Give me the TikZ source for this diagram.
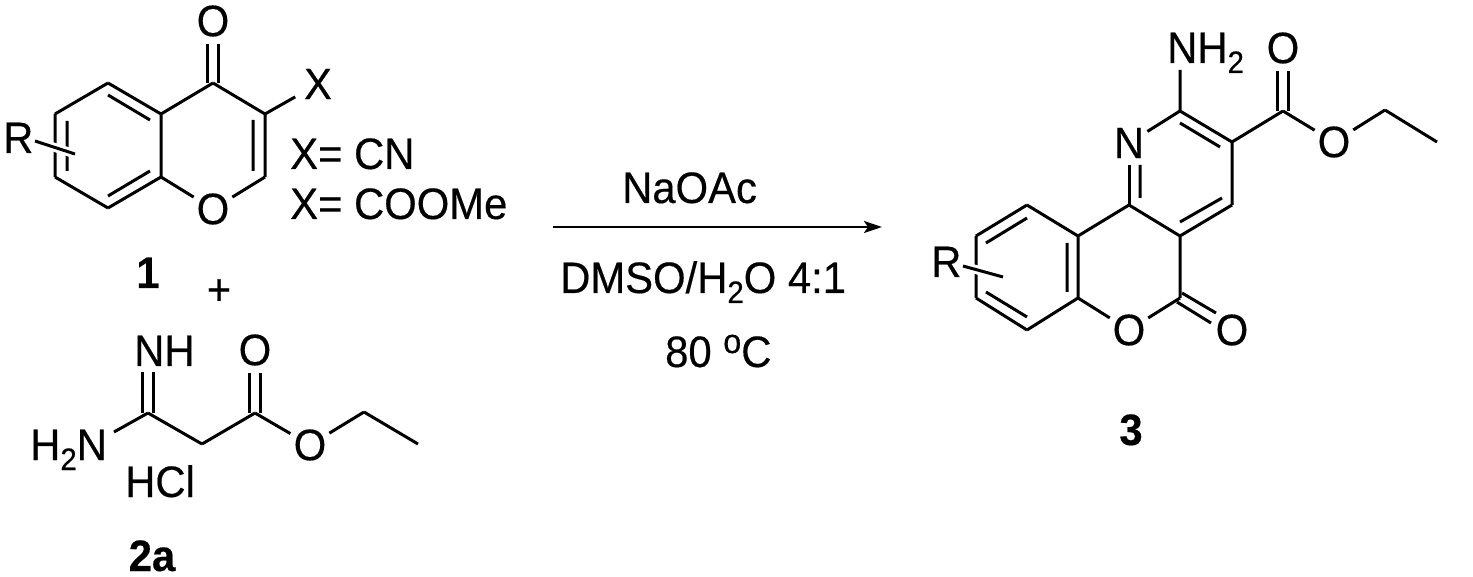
\documentclass[tikz,border=0pt]{standalone}
\usepackage{fontspec}
\setmainfont[FakeStretch=0.95,FakeBold=0.4]{Liberation Sans}
\usetikzlibrary{arrows.meta}
\newcommand{\subtwo}{\raisebox{-10pt}{\fontsize{31}{31}\selectfont 2}}
\tikzset{
  bond/.style={line width=3pt,line cap=butt,line join=round,black},
  halo/.style={line width=9pt,white},
  atomlab/.style={circle,inner sep=0pt,minimum size=43pt,font=\fontsize{44}{44}\selectfont},
  txt/.style={inner sep=0pt,anchor=base west,font=\fontsize{44}{44}\selectfont},
  cmpd/.style={inner sep=0pt,anchor=base,font=\fontsize{44}{44}\selectfont\bfseries},
  rxarrow/.style={line width=2.4pt,-{Stealth[length=18pt,width=12pt,inset=4pt]}}
}
\begin{document}
\begin{tikzpicture}[x=1pt,y=-1pt]
\useasboundingbox[fill=white] (0,0) rectangle (1473,577);
% ---- compound 1 ----
\coordinate (a4) at (213,83);
\coordinate (a3) at (265,114);
\coordinate (a2) at (265,177);
\coordinate (a8a) at (161,177);
\coordinate (a4a) at (161,114);
\coordinate (a5) at (108,83);
\coordinate (a6) at (55,114);
\coordinate (a7) at (55,177);
\coordinate (a8) at (108,208);
\coordinate (a5i) at (108,95);
\coordinate (a4ai) at (150,120);
\coordinate (a8i) at (108,196);
\coordinate (a8ai) at (150,171);
\coordinate (a6i) at (67,121);
\coordinate (a7i) at (67,171);
\coordinate (a3i) at (253,120);
\coordinate (a2i) at (253,171);
\coordinate (aRs) at (35,141);
\coordinate (aRe) at (75,154);
\node[atomlab] (aO1) at (213,209) {O};
\node[atomlab] (aO4) at (213,21) {O};
\node[atomlab,minimum size=52pt] (aX) at (318,84) {X};
\node[txt] (aR) at (3,153) {R};
\node[txt] (xcn) at (290,169) {X= CN};
\node[txt] (xcoome) at (290,219) {X= COOMe};
\node[cmpd] (n1) at (148,288) {1};
\node[txt,anchor=center] (plus) at (219,292) {+};
\draw[bond] (a4)--(a3) (a3)--(a2) (a8a)--(a4a) (a4a)--(a4) (a4a)--(a5) (a5)--(a6) (a6)--(a7) (a7)--(a8) (a8)--(a8a);
\draw[bond] (a5i)--(a4ai) (a8i)--(a8ai) (a6i)--(a7i) (a3i)--(a2i);
\draw[bond] (a8a)--(aO1) (a2)--(aO1) (a3)--(aX);
\draw[bond] ([xshift=-5.5pt]a4)--([xshift=-5.5pt]aO4.south) ([xshift=5.5pt]a4)--([xshift=5.5pt]aO4.south);
\draw[halo] (aRs)--(aRe);
\draw[bond] (aRs)--(aRe);
% ---- compound 2a ----
\coordinate (b1) at (148,413);
\coordinate (b2) at (202,444);
\coordinate (b3) at (255,413);
\coordinate (b4) at (364,412);
\coordinate (b5) at (418,444);
\coordinate (bNe) at (114,432);
\coordinate (bNHs) at (148,372);
\node[txt] (bNH) at (134,366) {NH};
\node[atomlab] (bO1) at (255,350) {O};
\node[atomlab] (bO2) at (310,445) {O};
\node[txt] (bH2N) at (30,460) {H\subtwo N};
\node[txt] (bHCl) at (125,497) {HCl};
\node[cmpd] (n2a) at (152,571) {2a};
\draw[bond] (bNe)--(b1) (b1)--(b2) (b2)--(b3) (b3)--(bO2) (bO2)--(b4) (b4)--(b5);
\draw[bond] ([xshift=-5.5pt]b1)--([xshift=-5.5pt]bNHs) ([xshift=5.5pt]b1)--([xshift=5.5pt]bNHs);
\draw[bond] ([xshift=-5.5pt]b3)--([xshift=-5.5pt]bO1.south) ([xshift=5.5pt]b3)--([xshift=5.5pt]bO1.south);
% ---- arrow ----
\coordinate (arS) at (553,227);
\coordinate (arE) at (882,227);
\draw[rxarrow] (arS)--(arE);
\node[txt] (naoac) at (622,203) {NaOAc};
\node[txt] (dmso) at (560,293) {DMSO/H\subtwo O 4:1};
\node[txt] (temp) at (665,367) {80 \raisebox{14pt}{\fontsize{34}{34}\selectfont o}C};
% ---- compound 3 ----
\coordinate (c2) at (1180,111);
\coordinate (c3) at (1232,142);
\coordinate (c4) at (1232,205);
\coordinate (c4a) at (1180,236);
\coordinate (c10b) at (1129,205);
\coordinate (c10a) at (1078,236);
\coordinate (c10) at (1027,205);
\coordinate (c9) at (976,236);
\coordinate (c8) at (976,298);
\coordinate (c7) at (1027,330);
\coordinate (c6a) at (1078,298);
\coordinate (c5) at (1180,298);
\coordinate (ce) at (1283,111);
\coordinate (ce1) at (1385,110);
\coordinate (ce2) at (1437,142);
\coordinate (cNH) at (1180,70);
\coordinate (c2i) at (1180,123);
\coordinate (c3i) at (1220,147);
\coordinate (c4i) at (1222,198);
\coordinate (c4ai) at (1180,222);
\coordinate (cNi) at (1140,165);
\coordinate (c10bi) at (1140,198);
\coordinate (c10ai) at (1067,243);
\coordinate (c6ai) at (1067,292);
\coordinate (c10i) at (1027,218);
\coordinate (c9i) at (986,243);
\coordinate (c8i) at (986,292);
\coordinate (c7i) at (1027,317);
\coordinate (cRs) at (963,266);
\coordinate (cRe) at (1003,277);
\coordinate (cc1) at (1182,293);
\coordinate (cc2) at (1216,313);
\coordinate (cc3) at (1177,302);
\coordinate (cc4) at (1211,323);
\node[atomlab] (cN) at (1129,143) {N};
\node[atomlab] (cO1) at (1129,330) {O};
\node[atomlab] (cO2) at (1232,330) {O};
\node[atomlab] (cO3) at (1283,48) {O};
\node[atomlab] (cO4) at (1334,142) {O};
\node[txt] (cNH2) at (1167,63) {NH\subtwo};
\node[txt] (cR) at (931,277) {R};
\node[cmpd] (n3) at (1131,445) {3};
\draw[bond] (cNH)--(c2) (c2)--(c3) (c3)--(c4) (c4)--(c4a) (c4a)--(c10b) (c10b)--(c10a) (c10a)--(c10) (c10)--(c9) (c9)--(c8) (c8)--(c7) (c7)--(c6a) (c6a)--(c10a) (c4a)--(c5) (c3)--(ce);
\draw[bond] (c2)--(cN) (c6a)--(cO1) (c5)--(cO1) (ce)--(cO4) (cO4)--(ce1) (ce1)--(ce2);
\draw[bond] (c2i)--(c3i) (c4i)--(c4ai) (cNi)--(c10bi) (c10ai)--(c6ai) (c10i)--(c9i) (c8i)--(c7i) (cc1)--(cc2) (cc3)--(cc4);
\draw[bond] (c10b)--(cN.south);
\draw[bond] ([xshift=-5.5pt]ce)--([xshift=-5.5pt]cO3.south) ([xshift=5.5pt]ce)--([xshift=5.5pt]cO3.south);
\draw[halo] (cRs)--(cRe);
\draw[bond] (cRs)--(cRe);
\end{tikzpicture}
\end{document}
